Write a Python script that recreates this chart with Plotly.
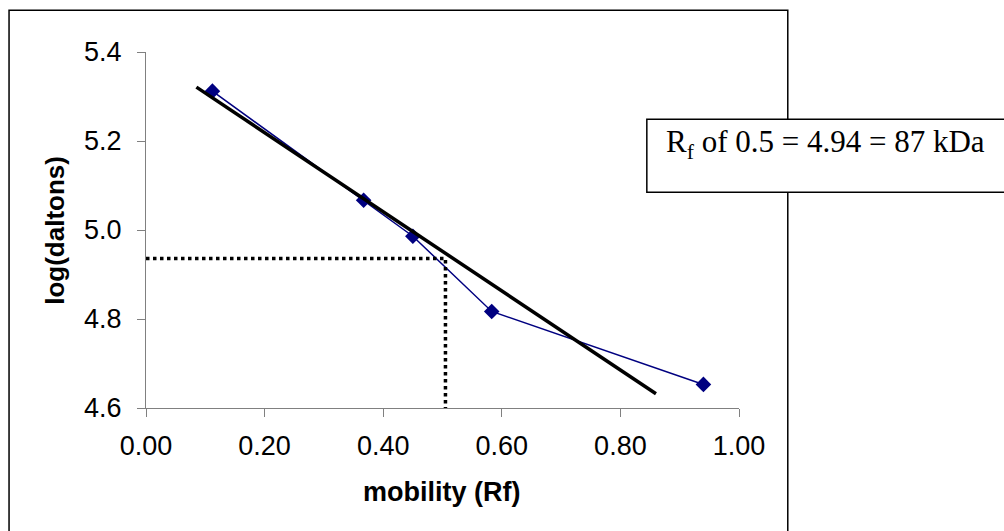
import plotly.graph_objects as go

# Data
mobility = [0.112, 0.367, 0.45, 0.583, 0.94]
log_daltons = [5.312, 5.067, 4.986, 4.817, 4.653]

fit_x = [0.085, 0.86]
fit_y = [5.321, 4.632]

guide_rf = 0.505
guide_logd = 4.936

x_ticks = [0.0, 0.2, 0.4, 0.6, 0.8, 1.0]
y_ticks = [4.6, 4.8, 5.0, 5.2, 5.4]

box_text = "R<sub>f</sub> of 0.5 = 4.94 = 87 kDa"

W, H = 1004, 531
L, R, T, B = 145.5, 265.3, 51.7, 123.3
pw = W - L - R
ph = H - T - B


def px(xp):
    return (xp - L) / pw


def py(yp):
    return (H - B - yp) / ph


fig = go.Figure()

fig.add_trace(go.Scatter(
    x=mobility, y=log_daltons, mode="lines+markers",
    line=dict(color="#000080", width=1.5),
    marker=dict(symbol="diamond", size=12, color="#000080"),
    cliponaxis=False, showlegend=False,
))

fig.add_trace(go.Scatter(
    x=fit_x, y=fit_y, mode="lines",
    line=dict(color="black", width=3.5),
    cliponaxis=False, showlegend=False,
))

fig.add_trace(go.Scatter(
    x=[0, guide_rf, guide_rf], y=[guide_logd, guide_logd, y_ticks[0]],
    mode="lines", line=dict(color="black", width=3.5, dash="dot"),
    cliponaxis=False, showlegend=False,
))

axis_common = dict(
    showgrid=False, zeroline=False, showline=True,
    linecolor="#808080", linewidth=1,
    ticks="outside", ticklen=8, tickcolor="#808080", tickwidth=1,
    tickfont=dict(family="Arial, Liberation Sans", size=27, color="black"),
)

fig.update_xaxes(range=[0, 1], tickvals=x_ticks,
                 ticktext=[f"{v:.2f}" for v in x_ticks],
                 ticklabelstandoff=6, **axis_common)
fig.update_yaxes(range=[4.6, 5.4], tickvals=y_ticks,
                 ticktext=[f"{v:.1f}" for v in y_ticks],
                 ticklabelstandoff=10, **axis_common)

shapes = [
    # outer chart frame
    dict(type="rect", xref="paper", yref="paper",
         x0=px(8.5), x1=px(787.5), y0=py(545), y1=py(10),
         line=dict(color="black", width=1.5), fillcolor="rgba(0,0,0,0)",
         layer="below"),
    # text box
    dict(type="rect", xref="paper", yref="paper",
         x0=px(646.5), x1=px(1015), y0=py(192), y1=py(119),
         line=dict(color="black", width=1.5), fillcolor="white",
         layer="above"),
]

annotations = [
    dict(text="<b>mobility (Rf)</b>", xref="paper", yref="paper",
         x=px(441), y=py(492), showarrow=False,
         xanchor="center", yanchor="middle",
         font=dict(family="Arial, Liberation Sans", size=27, color="black")),
    dict(text="<b>log(daltons)</b>", xref="paper", yref="paper",
         x=px(55), y=py(230), showarrow=False, textangle=-90,
         xanchor="center", yanchor="middle",
         font=dict(family="Arial, Liberation Sans", size=26, color="black")),
    dict(text=box_text, xref="paper", yref="paper",
         x=px(664), y=py(144), showarrow=False,
         xanchor="left", yanchor="middle",
         font=dict(family="Times New Roman, Liberation Serif", size=31,
                   color="black")),
]

fig.update_layout(
    width=W, height=H,
    margin=dict(l=L, r=R, t=T, b=B, autoexpand=False),
    plot_bgcolor="white", paper_bgcolor="white",
    shapes=shapes, annotations=annotations,
    showlegend=False,
)

fig.write_html(
    "out.html",
    config={"displayModeBar": False},
    post_script="document.body.style.margin='0';document.body.style.overflow='hidden';",
)
